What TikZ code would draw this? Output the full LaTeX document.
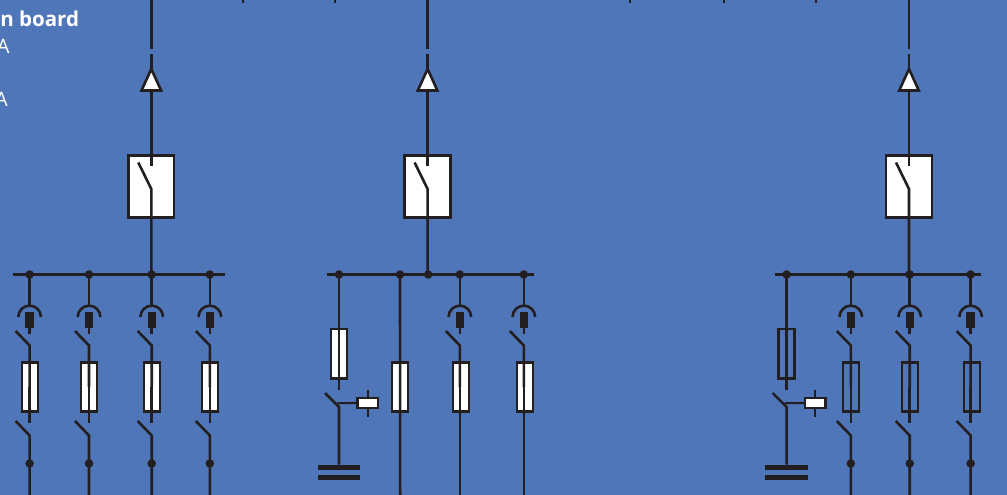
\documentclass[tikz,border=0pt]{standalone}
\usepackage{fontspec}
\setmainfont{Open Sans}
\definecolor{bg}{HTML}{4F76B8}
\definecolor{ink}{HTML}{231F20}
\tikzset{
  x=0.75pt,y=-0.75pt,
  wire/.style={draw=ink,line width=1.95pt},
  thin wire/.style={draw=ink,line width=1.6pt},
  dot/.style={circle,fill=ink,inner sep=0pt,minimum size=6.4pt},
  fusewhite/.style={draw=ink,line width=1.8pt,fill=white,inner sep=0pt,minimum width=12pt,minimum height=37pt},
  fuseopen/.style={draw=ink,line width=1.8pt,inner sep=0pt,minimum width=12pt,minimum height=37pt},
  contact/.style={fill=ink,inner sep=0pt,minimum width=6.2pt,minimum height=12.5pt},
  breaker/.style={draw=ink,line width=1.95pt,fill=white,inner sep=0pt,minimum width=34.3pt,minimum height=46.6pt},
  coil/.style={draw=ink,line width=1.95pt,fill=white,inner sep=0pt,minimum width=15.5pt,minimum height=7.5pt},
  plate/.style={fill=ink,inner sep=0pt,minimum width=31.8pt,minimum height=3.8pt},
  arrowhead/.style={draw=ink,line width=1.95pt,fill=white,line join=miter},
  label bold/.style={text=white,font=\bfseries\fontsize{15.4pt}{16pt}\selectfont,inner sep=0pt},
  label plain/.style={text=white,font=\fontsize{15pt}{16pt}\selectfont,inner sep=0pt},
}
% incoming feeder: name, x
\newcommand{\feeder}[2]{%
  \coordinate (#1top) at (#2,0);
  \coordinate (#1gapa) at (#2,49.5);
  \coordinate (#1gapb) at (#2,54);
  \coordinate (#1tip) at (#2,69);
  \coordinate (#1basel) at ({#2-9.8},90.5);
  \coordinate (#1baser) at ({#2+9.8},90.5);
  \coordinate (#1base) at (#2,90.5);
  \node[breaker] (#1brk) at (#2,186.6) {};
  \coordinate (#1stub) at (#2,166);
  \coordinate (#1hinge) at (#2,189);
  \coordinate (#1free) at ({#2-13},162.5);
  \coordinate (#1bus) at (#2,274.5);
  \draw[wire] (#1top) -- (#1gapa);
  \draw[wire] (#1gapb) -- (#1tip);
  \draw[arrowhead] (#1tip) -- (#1baser) -- (#1basel) -- cycle;
  \draw[wire] (#1base) -- (#1brk.north);
  \draw[wire] (#1brk.north) -- (#1stub);
  \draw[wire] (#1free) -- (#1hinge) -- (#1bus);
}
% contact, isolating blade and fuse: name, x, fuse style, fuse x
\newcommand{\outgoing}[4]{%
  \node[dot] (#1d) at (#2,274.5) {};
  \node[#3] (#1f) at (#4,387) {};
  \node[contact] (#1c) at (#2,320) {};
  \coordinate (#1arct) at (#2,305.5);
  \coordinate (#1arcl) at ({#2-11.3},317);
  \coordinate (#1stub) at (#2,334);
  \coordinate (#1free) at ({#2-14},331);
  \coordinate (#1hinge) at (#2,345.5);
  \coordinate (#1w) at (#2,387);
  \draw[wire] (#1d.center) -- (#1arct);
  \draw[wire] (#1arcl) arc[start angle=180,end angle=0,radius=8.5pt];
  \draw[wire] (#1c.center) -- (#1stub);
  \draw[wire] (#1free) -- (#1hinge) -- (#1w);
}
% fuse tail, second blade, bottom dot: name, x
\newcommand{\tail}[2]{%
  \coordinate (#1t) at (#2,423);
  \coordinate (#1u) at ({#2-14},421);
  \coordinate (#1v) at (#2,435.5);
  \coordinate (#1e) at (#2,495);
  \node[dot] (#1o) at (#2,463.5) {};
  \draw[wire] (#1w) -- (#1t);
  \draw[wire] (#1u) -- (#1v) -- (#1e);
}
% fuse running straight to the bottom: name, x
\newcommand{\straight}[2]{%
  \coordinate (#1e) at (#2,495);
  \draw[wire] (#1w) -- (#1e);
}
% capacitor branch: name, x, fuse style
\newcommand{\capbranch}[3]{%
  \node[dot] (#1d) at (#2,274.5) {};
  \node[#3] (#1f) at (#2,353.8) {};
  \coordinate (#1t) at (#2,390);
  \coordinate (#1u) at ({#2-14},393);
  \coordinate (#1v) at (#2,407);
  \node[coil] (#1k) at ({#2+28.8},403) {};
  \coordinate (#1ka) at ({#2+28.8},389.5);
  \coordinate (#1kb) at ({#2+28.8},417);
  \coordinate (#1j) at ({#2-1.5},403.2);
  \node[plate] (#1p) at (#2,467.5) {};
  \node[plate] (#1q) at (#2,477.8) {};
  \draw[wire] (#1d.center) -- (#1t);
  \draw[wire] (#1u) -- (#1v) -- (#1p.north);
  \draw[thin wire] (#1j) -- (#1k.west);
  \draw[thin wire] (#1ka) -- (#1k.north);
  \draw[thin wire] (#1k.south) -- (#1kb);
}
\newcommand{\tick}[2]{%
  \coordinate (#1a) at (#2,0);
  \coordinate (#1b) at (#2,3);
  \draw[wire] (#1a) -- (#1b);
}
\begin{document}
\begin{tikzpicture}
\useasboundingbox (0,0) rectangle (1007,495);
\clip (0,0) rectangle (1007,495);
\fill[bg] (0,0) rectangle (1007,495);
\node[label bold,anchor=base west] (title) at (0,27) {n board};
\node[label plain,anchor=base east] (ra) at (9.8,53.5) {A};
\node[label plain,anchor=base east] (rb) at (8,106.5) {A};
\tick{ta}{243}\tick{tb}{335}\tick{tc}{630}\tick{td}{724}\tick{te}{816}
% buses
\coordinate (busaL) at (13,274.5);\coordinate (busaR) at (225,274.5);
\coordinate (busbL) at (327,274.5);\coordinate (busbR) at (533.5,274.5);
\coordinate (buscL) at (774.5,274.5);\coordinate (buscR) at (980.7,274.5);
\draw[wire] (busaL) -- (busaR);
\draw[wire] (busbL) -- (busbR);
\draw[wire] (buscL) -- (buscR);
% left section
\feeder{fa}{151.3}
\outgoing{a}{29.6}{fusewhite}{29.8}\tail{a}{29.6}
\outgoing{b}{89}{fusewhite}{89.2}\tail{b}{89}
\outgoing{c}{151.7}{fusewhite}{151.8}\tail{c}{151.7}
\outgoing{d}{209.8}{fusewhite}{209.8}\tail{d}{209.8}
% middle section
\feeder{fb}{427.6}
\node[dot] (jb) at (428.2,274.5) {};
\capbranch{e}{339}{fusewhite}
\node[dot] (gd) at (400,274.5) {};
\node[fusewhite] (gf) at (400.2,387) {};
\coordinate (ge) at (400.2,495);
\draw[wire] (gd.center) -- (ge);
\outgoing{h}{459.8}{fusewhite}{460.8}\straight{h}{459.8}
\outgoing{i}{523.8}{fusewhite}{525}\straight{i}{523.8}
% right section
\feeder{fc}{909}
\node[dot] (jc) at (909.6,274.5) {};
\capbranch{k}{786.6}{fuseopen}
\outgoing{l}{850.8}{fuseopen}{850.8}\tail{l}{850.8}
\outgoing{m}{909.7}{fuseopen}{909.8}\tail{m}{909.7}
\outgoing{n}{970.6}{fuseopen}{971.8}\tail{n}{970.6}
\end{tikzpicture}
\end{document}
